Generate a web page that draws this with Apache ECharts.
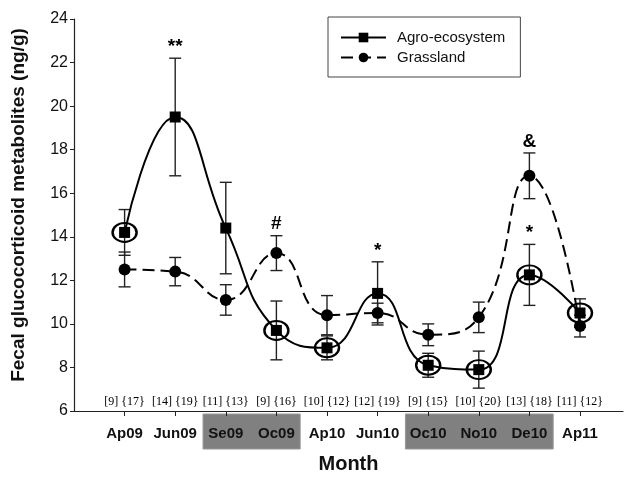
<!DOCTYPE html>
<html>
<head>
<meta charset="utf-8">
<script src="https://cdn.jsdelivr.net/npm/echarts@6/dist/echarts.min.js"></script>
<style>
  html, body { margin: 0; padding: 0; background: #fff; }
  #main { width: 625px; height: 479px; }
</style>
</head>
<body>
<div id="main"></div>
<script>
// data
var months = ['Ap09', 'Jun09', 'Se09', 'Oc09', 'Ap10', 'Jun10', 'Oc10', 'No10', 'De10', 'Ap11'];
var agroMean = [14.2, 19.5, 14.4, 9.7, 8.9, 11.4, 8.1, 7.9, 12.25, 10.5];
var agroErr = [1.05, 2.7, 2.1, 1.35, 0.55, 1.45, 0.55, 0.85, 1.4, 0.65];
var grassMean = [12.5, 12.4, 11.1, 13.25, 10.4, 10.5, 9.5, 10.3, 16.8, 9.9];
var grassErr = [0.8, 0.65, 0.7, 0.8, 0.9, 0.45, 0.5, 0.7, 1.05, 0.5];
var nAgro = [9, 14, 11, 9, 10, 12, 9, 10, 13, 11];
var nGrass = [17, 19, 13, 16, 12, 19, 15, 20, 18, 12];
var circled = ['Ap09', 'Oc09', 'Ap10', 'Oc10', 'No10', 'De10', 'Ap11'];
var agroMarks = [['Jun09', '**'], ['Jun10', '*'], ['De10', '*']];
var grassMarks = [['Oc09', '#'], ['De10', '&']];
var shaded = [['Se09', 'Oc09'], ['Oc10', 'De10']];

var idx = months.map(function (m, i) { return i; });

var pts = function (mean) {
    return mean.map(function (v, i) { return [i, v]; });
};
var errData = function (mean, err) {
    return mean.map(function (v, i) { return [i, v, err[i]]; });
};
var markData = function (list, mean, err) {
    return list.map(function (a) {
        var i = months.indexOf(a[0]);
        return [i, mean[i] + err[i], a[1]];
    });
};

//误差线
var renderErr = function (params, api) {
    var x = api.value(0), m = api.value(1), e = api.value(2);
    var top = api.coord([x, m + e]);
    var bot = api.coord([x, m - e]);
    var w = 6;
    var st = { stroke: '#222', lineWidth: 1.4 };
    return {
        type: 'group',
        children: [
            { type: 'line', shape: { x1: top[0], y1: top[1], x2: bot[0], y2: bot[1] }, style: st },
            { type: 'line', shape: { x1: top[0] - w, y1: top[1], x2: top[0] + w, y2: top[1] }, style: st },
            { type: 'line', shape: { x1: bot[0] - w, y1: bot[1], x2: bot[0] + w, y2: bot[1] }, style: st }
        ]
    };
};

var dom = document.getElementById('main');
var myChart = echarts.init(dom);

var option = {
    animation: false,
    grid: { left: 74, right: 2, top: 19, bottom: 65 },
    legend: {
        orient: 'vertical',
        left: 328,
        top: 17,
        padding: [13, 15, 12, 12],
        itemGap: 5,
        itemWidth: 45,
        itemHeight: 12,
        borderColor: '#444',
        borderWidth: 1,
        data: ['Agro-ecosystem', 'Grassland'],
        textStyle: { fontFamily: 'Liberation Sans', fontSize: 15, color: '#111', padding: [0, 0, 0, 6] }
    },
    xAxis: {
        type: 'value',
        min: -1,
        max: 9.85,
        name: 'Month',
        nameLocation: 'middle',
        nameGap: 43,
        nameTextStyle: { fontFamily: 'Liberation Sans', fontSize: 20, fontWeight: 'bold', color: '#111' },
        splitLine: { show: false },
        axisLine: { show: true, onZero: false, lineStyle: { color: '#222', width: 1.2 } },
        axisTick: { show: true, customValues: idx, length: 5, lineStyle: { color: '#222' } },
        axisLabel: {
            customValues: idx,
            margin: 15,
            fontFamily: 'Liberation Sans',
            fontSize: 15,
            fontWeight: 'bold',
            color: '#111',
            formatter: function (v) { return months[Math.round(v)] || ''; }
        }
    },
    yAxis: {
        type: 'value',
        min: 6,
        max: 24,
        interval: 2,
        name: 'Fecal glucocorticoid metabolites (ng/g)',
        nameLocation: 'middle',
        nameGap: 46,
        nameTextStyle: { fontFamily: 'Liberation Sans', fontSize: 19, fontWeight: 'bold', color: '#111', padding: [0, 0, 0, 20] },
        splitLine: { show: false },
        axisLine: { show: true, onZero: false, lineStyle: { color: '#222', width: 1.2 } },
        axisTick: { show: true, length: 4, lineStyle: { color: '#222' } },
        axisLabel: { margin: 6, fontFamily: 'Liberation Sans', fontSize: 16, color: '#111' }
    },
    series: [
        {
            name: 'errA',
            type: 'custom',
            renderItem: renderErr,
            data: errData(agroMean, agroErr),
            z: 1
        },
        {
            name: 'errG',
            type: 'custom',
            renderItem: renderErr,
            data: errData(grassMean, grassErr),
            z: 1
        },
        {
            name: 'Agro-ecosystem',
            type: 'line',
            smooth: true,
            data: pts(agroMean),
            symbol: 'rect',
            symbolSize: 11,
            itemStyle: { color: '#000' },
            lineStyle: { color: '#000', width: 2 },
            z: 3
        },
        {
            name: 'Grassland',
            type: 'line',
            smooth: true,
            data: pts(grassMean),
            symbol: 'circle',
            symbolSize: 12,
            itemStyle: { color: '#000' },
            lineStyle: { color: '#000', width: 2, type: [12, 6] },
            z: 3
        },
        {
            name: 'circ',
            type: 'scatter',
            data: circled.map(function (m) {
                var i = months.indexOf(m);
                return [i, agroMean[i]];
            }),
            symbol: 'circle',
            symbolSize: [24, 19],
            itemStyle: { color: 'rgba(0,0,0,0)', borderColor: '#000', borderWidth: 2.2, opacity: 1 },
            z: 4
        },
        {
            name: 'marks',
            type: 'scatter',
            symbolSize: 0,
            itemStyle: { opacity: 1 },
            data: markData(agroMarks, agroMean, agroErr).concat(markData(grassMarks, grassMean, grassErr)),
            label: {
                show: true,
                position: 'top',
                distance: 2,
                fontFamily: 'Liberation Sans',
                fontSize: 19,
                fontWeight: 'bold',
                color: '#000',
                formatter: function (p) { return p.value[2]; }
            },
            z: 5
        },
        {
            name: 'nums',
            type: 'scatter',
            symbolSize: 0,
            itemStyle: { opacity: 1 },
            data: idx.map(function (i) { return [i, 6, '[' + nAgro[i] + '] {' + nGrass[i] + '}']; }),
            label: {
                show: true,
                position: 'top',
                distance: 3,
                fontFamily: 'Liberation Serif',
                fontSize: 12,
                color: '#000',
                formatter: function (p) { return p.value[2]; }
            },
            z: 5
        }
    ]
};

myChart.setOption(option);

// 灰色底框
var boxes = shaded.map(function (s) {
    var a = myChart.convertToPixel({ xAxisIndex: 0, yAxisIndex: 0 }, [months.indexOf(s[0]) - 0.45, 6]);
    var b = myChart.convertToPixel({ xAxisIndex: 0, yAxisIndex: 0 }, [months.indexOf(s[1]) + 0.47, 6]);
    return {
        type: 'rect',
        z: -1,
        shape: { x: a[0], y: a[1] + 3, width: b[0] - a[0], height: 35 },
        style: { fill: '#808080', stroke: '#999', lineWidth: 1 }
    };
});
myChart.setOption({ graphic: boxes });

window.addEventListener('resize', function () {
    myChart.resize();
});
</script>
</body>
</html>
